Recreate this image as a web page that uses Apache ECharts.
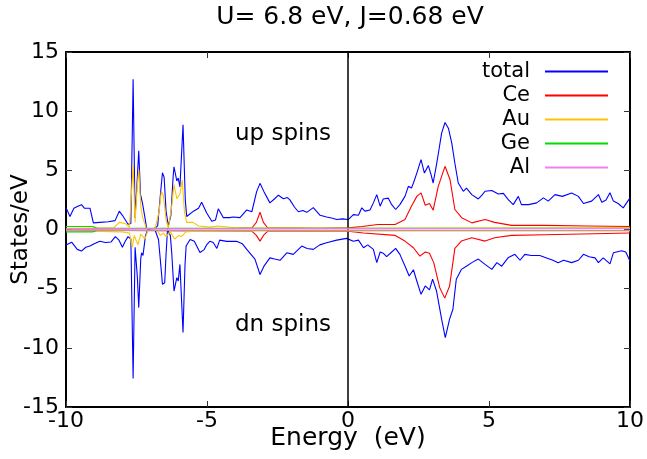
<!DOCTYPE html>
<html><head><meta charset="utf-8">
<script src="https://cdn.jsdelivr.net/npm/echarts@6/dist/echarts.min.js"></script>
<style>html,body{margin:0;padding:0;background:#fff}#c{width:647px;height:459px}</style>
</head><body><div id="c"></div>
<script>
const titleText = 'U= 6.8 eV, J=0.68 eV';
const xTicks = [-10, -5, 0, 5, 10];
const yTicks = [-15, -10, -5, 0, 5, 10, 15];
const seriesNames = ['total', 'Ce', 'Au', 'Ge', 'Al'];
const seriesColors = ['#0000ff', '#ff0000', '#ffc400', '#00dd00', '#ee82ee'];

// total DOS, spin up
const totalUpE = [-10.0,-9.86,-9.72,-9.6,-9.45,-9.35,-9.15,-9.03,-8.8,-8.5,-8.26,-8.11,-8.0,-7.93,-7.8,-7.7,-7.62,-7.55,-7.48,-7.42,-7.36,-7.29,-7.2,-7.14,-6.9,-6.75,-6.65,-6.58,-6.52,-6.45,-6.37,-6.28,-6.2,-6.17,-6.07,-6.02,-5.96,-5.85,-5.77,-5.72,-5.66,-5.48,-5.3,-5.19,-5.01,-4.83,-4.7,-4.6,-4.42,-4.2,-4.07,-3.83,-3.59,-3.41,-3.24,-3.12,-2.98,-2.77,-2.6,-2.47,-2.29,-2.15,-2.06,-1.9,-1.76,-1.6,-1.46,-1.23,-0.99,-0.76,-0.55,-0.4,-0.2,0.01,0.19,0.37,0.49,0.6,0.78,0.9,1.02,1.14,1.25,1.43,1.55,1.69,1.84,2.02,2.14,2.25,2.32,2.44,2.59,2.71,2.85,2.95,3.02,3.14,3.23,3.32,3.44,3.56,3.68,3.79,3.91,4.09,4.2,4.39,4.62,4.75,4.86,5.1,5.33,5.51,5.69,5.86,6.04,6.15,6.4,6.69,6.93,7.1,7.34,7.6,7.93,8.17,8.35,8.64,8.88,9.0,9.15,9.29,9.41,9.58,9.76,10.0];
const totalUpV = [1.85,1.1,1.8,1.95,2.1,1.8,1.8,0.56,0.6,0.65,0.75,1.55,1.2,1.3,0.45,0.5,12.7,1.0,4.0,6.65,3.0,2.25,1.0,0.1,0.0,0.3,3.0,4.8,4.4,1.5,0.3,1.2,4.5,5.3,4.1,4.35,3.6,8.85,2.5,1.1,1.1,1.55,1.8,2.3,1.4,0.7,0.8,1.75,1.0,1.0,1.05,1.0,1.65,1.5,3.2,3.9,3.2,2.25,2.6,2.9,2.6,2.7,2.5,1.9,1.5,1.6,1.45,1.85,1.2,1.05,0.95,0.84,0.9,0.84,1.26,1.2,1.83,1.55,1.65,2.25,2.95,1.97,2.58,2.65,2.1,1.69,2.1,2.8,3.65,3.5,3.93,4.77,5.9,4.77,5.4,4.6,3.93,5.5,6.8,8.14,9.04,8.56,7.3,5.6,3.93,3.23,3.5,2.95,2.58,2.9,3.23,3.3,3.0,3.05,2.5,2.1,2.8,2.1,2.1,2.25,2.67,2.4,2.95,2.8,3.09,2.8,2.2,2.4,2.95,2.3,2.5,3.1,2.4,2.2,1.83,2.67];
// total DOS, spin down
const totalDnE = [-10.0,-9.8,-9.6,-9.45,-9.3,-9.15,-9.0,-8.8,-8.6,-8.4,-8.25,-8.12,-8.0,-7.9,-7.8,-7.7,-7.62,-7.55,-7.47,-7.42,-7.35,-7.32,-7.27,-7.18,-7.1,-6.85,-6.72,-6.62,-6.58,-6.5,-6.45,-6.4,-6.3,-6.25,-6.17,-6.07,-6.02,-5.96,-5.85,-5.78,-5.74,-5.6,-5.45,-5.25,-5.1,-5.0,-4.9,-4.78,-4.65,-4.55,-4.3,-3.95,-3.75,-3.59,-3.3,-3.12,-2.98,-2.77,-2.6,-2.41,-2.17,-1.94,-1.64,-1.45,-1.23,-1.0,-0.76,-0.4,-0.05,0.19,0.37,0.55,0.7,0.9,1.02,1.14,1.25,1.37,1.55,1.69,1.84,2.02,2.17,2.32,2.44,2.59,2.74,2.89,3.0,3.14,3.32,3.45,3.6,3.72,3.84,4.02,4.2,4.39,4.62,4.86,5.1,5.28,5.45,5.69,5.92,6.1,6.27,6.5,6.8,7.04,7.27,7.45,7.65,7.93,8.17,8.35,8.55,8.76,8.88,9.05,9.29,9.41,9.7,9.85,10.0];
const totalDnV = [-1.3,-1.07,-1.68,-1.82,-1.5,-1.4,-1.2,-1.0,-1.1,-1.05,-0.6,-0.9,-1.5,-1.0,-0.6,-0.8,-12.6,-1.5,-4.0,-6.6,-2.5,-1.97,-2.2,-0.5,0.0,0.0,-0.84,-3.5,-4.63,-4.5,-2.0,0.0,-0.5,-2.0,-5.2,-4.07,-4.35,-2.95,-8.7,-3.0,-1.4,-0.84,-1.0,-1.95,-1.7,-1.25,-1.0,-1.1,-1.6,-0.9,-1.0,-1.0,-1.2,-1.68,-2.5,-3.8,-3.1,-2.4,-2.5,-2.6,-1.97,-2.1,-1.4,-1.6,-1.68,-1.3,-1.12,-0.9,-0.75,-1.0,-0.9,-1.54,-1.3,-1.68,-2.8,-1.9,-2.0,-2.3,-1.9,-1.6,-2.1,-3.09,-3.93,-3.4,-4.35,-5.48,-4.77,-5.1,-4.2,-5.2,-7.58,-9.13,-7.6,-6.74,-4.2,-3.37,-3.1,-2.8,-2.5,-2.95,-3.37,-2.8,-3.1,-2.36,-2.1,-2.6,-2.1,-2.2,-2.2,-2.4,-2.6,-2.8,-2.6,-2.8,-2.6,-2.1,-2.3,-2.4,-2.8,-2.4,-2.9,-1.97,-1.8,-1.9,-2.67];
// Ce
const ceUpE = [-10,-4,-3.4,-3.25,-3.12,-3.0,-2.85,-1,0,0.5,1.06,1.67,2.02,2.25,2.44,2.59,2.74,2.89,3.02,3.2,3.44,3.62,3.79,4.03,4.39,4.86,5.2,5.8,7.0,8.5,10];
const ceUpV = [0.05,0.1,0.15,0.6,1.46,0.6,0.15,0.1,0.14,0.25,0.42,0.42,0.84,1.97,2.8,3.09,2.05,2.2,1.63,3.65,5.34,4.2,1.69,1.0,0.56,0.84,0.6,0.35,0.35,0.3,0.25];
const ceDnE = [-10,-3.4,-3.25,-3.12,-3.0,-2.85,0,0.55,1.67,2.02,2.32,2.55,2.74,2.89,3.04,3.25,3.43,3.6,3.79,4.02,4.39,4.86,5.2,5.8,7.0,10];
const ceDnV = [-0.05,-0.15,-0.5,-0.98,-0.5,-0.15,-0.15,-0.3,-0.5,-0.98,-1.54,-2.25,-1.9,-2.0,-2.8,-4.9,-5.8,-4.8,-1.6,-0.98,-0.7,-0.98,-0.7,-0.5,-0.45,-0.3];
// Au
const auUpE = [-10,-8.3,-8.11,-7.9,-7.75,-7.62,-7.55,-7.48,-7.42,-7.35,-7.28,-7.15,-6.85,-6.7,-6.62,-6.55,-6.45,-6.37,-6.25,-6.17,-6.07,-5.96,-5.88,-5.8,-5.72,-5.5,-5.3,-4.9,-4.6,-4.0,0,10];
const auUpV = [0.1,0.15,0.6,0.5,0.2,5.5,0.6,3.5,5.05,2.0,1.0,0.1,0.0,1.5,3.2,2.9,0.8,0.1,2.0,3.8,2.6,3.0,4.2,1.5,0.6,0.6,0.3,0.2,0.3,0.15,0.1,0.15];
const auDnE = [-10,-8.0,-7.75,-7.65,-7.58,-7.45,-7.35,-7.2,-7.1,-6.8,-6.65,-6.55,-6.45,-6.3,-6.15,-6.0,-5.9,-5.75,-5.5,0,10];
const auDnV = [-0.1,-0.2,-0.3,-1.5,-0.5,-1.3,-0.4,-0.8,-0.1,0,-0.5,-0.3,-0.6,-0.2,-0.8,-0.5,-0.6,-0.2,-0.15,-0.1,-0.12];
// Ge
const geUpE = [-10,-9.05,-8.9,10];
const geUpV = [0.25,0.25,0.1,0.1];
const geDnE = [-10,-9.05,-8.9,10];
const geDnV = [-0.2,-0.2,-0.08,-0.08];
// Al
const alUpE = [-10,10];
const alUpV = [0.05,0.08];
const alDnE = [-10,10];
const alDnV = [-0.05,-0.06];

const FONT = 'DejaVu Sans';
const pairs = (E, V) => E.map((e, i) => [e, V[i]]);
const curves = [
  ['total', totalUpE, totalUpV], ['total', totalDnE, totalDnV],
  ['Ce', ceUpE, ceUpV], ['Ce', ceDnE, ceDnV],
  ['Au', auUpE, auUpV], ['Au', auDnE, auDnV],
  ['Ge', geUpE, geUpV], ['Ge', geDnE, geDnV],
  ['Al', alUpE, alUpV], ['Al', alDnE, alDnV]
];

const series = curves.map((c, i) => {
  const col = seriesColors[seriesNames.indexOf(c[0])];
  const s = {
    type: 'line', name: c[0], data: pairs(c[1], c[2]),
    showSymbol: false, symbol: 'none', smooth: false,
    color: col, lineStyle: { color: col, width: 1.1 },
    z: 2 + i, silent: true
  };
  if (i === 0) {
    s.markLine = {
      silent: true, symbol: ['none', 'none'], label: { show: false },
      lineStyle: { color: '#000', width: 1.5, type: 'solid' },
      data: [{ xAxis: 0 }]
    };
  }
  return s;
});

const legends = seriesNames.map((n, i) => ({
  data: [n], orient: 'vertical', align: 'right', right: 39, top: 61 + i * 24,
  icon: 'rect', itemWidth: 63, itemHeight: 2, itemGap: 0, padding: 0,
  selectedMode: false,
  textStyle: { fontFamily: FONT, fontSize: 21, color: '#000', padding: [0, 10, 0, 0] }
}));

const axisLineStyle = { color: '#000', width: 2 };
const tickStyle = { inside: true, length: 6, lineStyle: { color: '#333', width: 1 } };
const fmt = ticks => v => ticks.indexOf(v) >= 0 ? String(v) : '';

const option = {
  animation: false,
  backgroundColor: '#fff',
  title: {
    text: titleText, left: 350, top: 5, textAlign: 'center', padding: 0,
    textStyle: { fontFamily: FONT, fontSize: 25, fontWeight: 'normal', color: '#000' }
  },
  legend: legends,
  grid: { left: 66, right: 17, top: 52, bottom: 52, containLabel: false, outerBoundsMode: 'none' },
  xAxis: [
    { type: 'value', min: xTicks[0], max: xTicks[xTicks.length - 1], interval: 5, position: 'bottom',
      axisLine: { onZero: false, lineStyle: axisLineStyle }, axisTick: tickStyle,
      axisLabel: { fontFamily: FONT, fontSize: 22, color: '#000', margin: 3, formatter: fmt(xTicks) },
      splitLine: { show: false },
      name: 'Energy  (eV)', nameLocation: 'middle', nameGap: 19, nameMoveOverlap: false,
      nameTextStyle: { fontFamily: FONT, fontSize: 25, color: '#000', verticalAlign: 'top' } },
    { type: 'value', min: xTicks[0], max: xTicks[xTicks.length - 1], interval: 5, position: 'top',
      axisLine: { onZero: false, lineStyle: axisLineStyle }, axisTick: tickStyle,
      axisLabel: { show: false }, splitLine: { show: false } }
  ],
  yAxis: [
    { type: 'value', min: yTicks[0], max: yTicks[yTicks.length - 1], interval: 5, position: 'left',
      axisLine: { onZero: false, lineStyle: axisLineStyle }, axisTick: tickStyle,
      axisLabel: { fontFamily: FONT, fontSize: 22, color: '#000', margin: 7, formatter: fmt(yTicks) },
      splitLine: { show: false },
      name: 'States/eV', nameLocation: 'middle', nameGap: 33, nameRotate: 90, nameMoveOverlap: false,
      nameTextStyle: { fontFamily: FONT, fontSize: 23, color: '#000' } },
    { type: 'value', min: yTicks[0], max: yTicks[yTicks.length - 1], interval: 5, position: 'right',
      axisLine: { onZero: false, lineStyle: axisLineStyle }, axisTick: tickStyle,
      axisLabel: { show: false }, splitLine: { show: false } }
  ],
  graphic: [
    { type: 'text', left: 235, top: 123, style: { text: 'up spins', fontFamily: FONT, fontSize: 23, fill: '#000' } },
    { type: 'text', left: 235, top: 314, style: { text: 'dn spins', fontFamily: FONT, fontSize: 23, fill: '#000' } }
  ],
  series: series
};

const chart = echarts.init(document.getElementById('c'), null, { renderer: 'canvas' });
chart.setOption(option);
</script>
</body></html>
